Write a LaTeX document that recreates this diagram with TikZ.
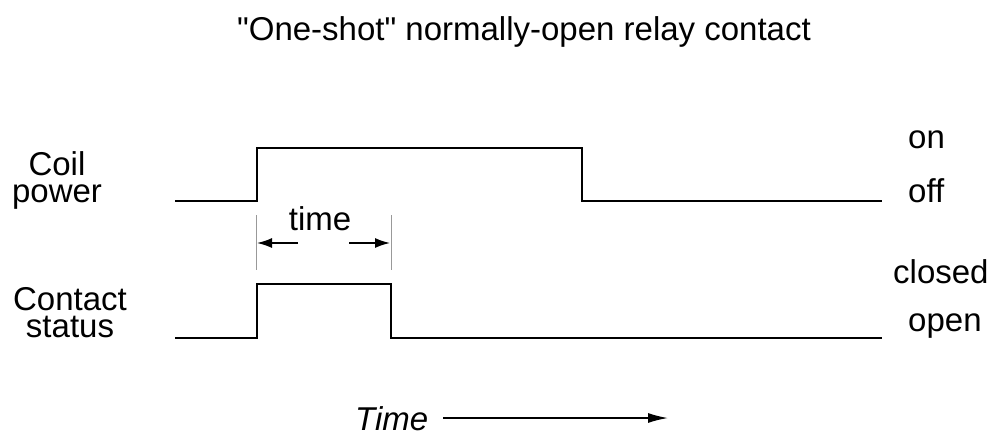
\documentclass[tikz,border=0pt]{standalone}
\usepackage{fontspec}
\setmainfont{Liberation Sans}[Ligatures=TeXOff]
\usetikzlibrary{arrows.meta}
\tikzset{
    signal/.style={line width=2pt, line join=miter},
    guide/.style={line width=1pt, black!40},
    dimarrow/.style={line width=1.5pt, -{Latex[length=15pt,width=10pt]}},
    label/.style={inner sep=0pt, font=\fontsize{33}{27}\selectfont}
}
\begin{document}
\begin{tikzpicture}[x=1pt,y=-1pt]
    \useasboundingbox (0,0) rectangle (995,434);

    % titolo
    \node[label, anchor=base] (title) at (524,40) {"One-shot" normally-open relay contact};

    % coil
    \node[label, anchor=base, align=center] (coil) at (57,202) {Coil\\power};
    \draw[signal] (175,201) -- (257,201) -- (257,148) -- (582,148) -- (582,201) -- (882,201);
    \node[label, anchor=base west] (on) at (908,148) {on};
    \node[label, anchor=base west] (off) at (908,202) {off};

    % contact
    \node[label, anchor=base, align=center] (contact) at (70,337) {Contact\\status};
    \draw[signal] (175,338) -- (257,338) -- (257,284) -- (391,284) -- (391,338) -- (882,338);
    \node[label, anchor=base west] (closed) at (893,283) {closed};
    \node[label, anchor=base west] (open) at (908,331) {open};

    % durata
    \coordinate (tl) at (256,215);
    \coordinate (tr) at (391,215);
    \draw[guide] (tl) -- ++(0,55);
    \draw[guide] (tr) -- ++(0,55);
    \node[label, anchor=base] (dur) at (320,230) {time};
    \coordinate (al) at (298,243);
    \coordinate (ar) at (349,243);
    \draw[dimarrow] (al) -- (257,243);
    \draw[dimarrow] (ar) -- (390,243);

    % asse tempo
    \node[label, anchor=base west, font=\fontsize{33}{27}\selectfont\itshape] (axis) at (355,430) {Time};
    \coordinate (axend) at (668,418);
    \draw[line width=1.5pt, -{Latex[length=20pt,width=10pt]}] (443,418) -- (axend);
\end{tikzpicture}
\end{document}
